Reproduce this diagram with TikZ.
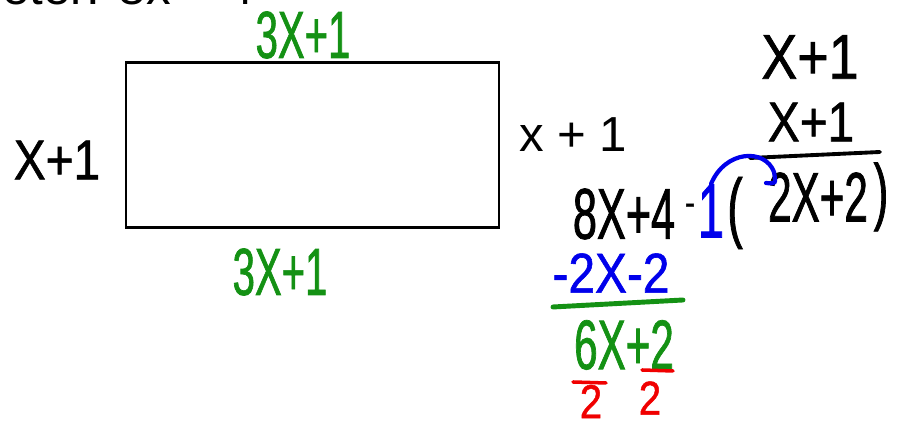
\documentclass[tikz,border=0pt]{standalone}
\usepackage{fontspec}
\setmainfont{Liberation Sans}
\newfontfamily\handnarrow[FakeStretch=0.6,FakeBold=1]{Liberation Sans}
\newfontfamily\handwide[FakeStretch=0.85,FakeBold=1]{Liberation Sans}
\definecolor{penGreen}{RGB}{20,145,20}
\definecolor{penBlue}{RGB}{0,0,235}
\definecolor{penRed}{RGB}{240,0,0}

\begin{document}
\begin{tikzpicture}[
  every node/.style={inner sep=0pt},
  pen/.style={line width=2.4pt, line cap=round},
  hn/.style={font={\handnarrow\fontsize{#1pt}{#1pt}\selectfont}},
  hw/.style={font={\handwide\fontsize{#1pt}{#1pt}\selectfont}},
  typed/.style={font={\fontsize{#1pt}{#1pt}\selectfont}}
]
  \useasboundingbox (0,0) rectangle (18,8.5);
  \clip (0,0) rectangle (18,8.5);

  % clipped line at the top
  \node[typed=28, anchor=base east] (prompt) at (5.09,8.41) {Perimeter: 8x + 4};

  % the rectangle and its sides
  \node[draw, line width=1.7pt, minimum width=7.46cm, minimum height=3.3cm] (box) at (6.25,5.59) {};
  \node[hn=38, text=penGreen] (top) at (6.06,7.8) {3X+1};
  \node[hn=38, text=penGreen] (bottom) at (5.6,3.06) {3X+1};
  \node[hw=32] (left) at (1.14,5.3) {X+1};
  \node[typed=28, anchor=base west] (right) at (10.38,5.46) {x + 1};

  % sum of the two sides
  \node[hw=36] (side1) at (16.2,7.36) {X+1};
  \node[hw=32] (side2) at (16.22,6.06) {X+1};
  \coordinate (barL) at (15.0,5.34);
  \coordinate (barR) at (17.6,5.46);
  \draw[pen, line width=2.2pt] (barL) -- (barR);

  % subtraction
  \node[hn=41] (total) at (12.48,4.22) {8X+4};
  \node[hw=20, anchor=base] (minus) at (13.8,4.21) {-};
  \node[hn=44, text=penBlue] (one) at (14.22,4.28) {1};
  \node[hn=44] (lpar) at (14.7,4.24) {(};
  \node[hn=40] (twice) at (16.36,4.56) {2X+2};
  \node[hn=42] (rpar) at (17.62,4.56) {)};
  \coordinate (hook) at (15.32,4.84);
  \draw[pen, penBlue] (one.north) .. controls (14.5,5.5) and (15.3,5.54) .. (15.48,5.06)
    .. controls (15.52,4.82) .. (hook);

  \node[hw=32, text=penBlue] (sub) at (12.22,3.04) {-2X-2};
  \coordinate (sumL) at (11.06,2.36);
  \coordinate (sumR) at (13.66,2.5);
  \draw[pen, penGreen, line width=2.8pt] (sumL) -- (sumR);
  \node[hn=40, text=penGreen] (rest) at (12.48,1.6) {6X+2};

  % divide by two
  \coordinate (divAL) at (11.46,0.86);
  \coordinate (divAR) at (12.12,0.84);
  \coordinate (divBL) at (12.84,1.1);
  \coordinate (divBR) at (13.46,1.08);
  \draw[pen, penRed, line width=2pt] (divAL) -- (divAR);
  \draw[pen, penRed, line width=2pt] (divBL) -- (divBR);
  \node[hw=27, text=penRed] (halfA) at (11.82,0.47) {2};
  \node[hw=27, text=penRed] (halfB) at (13.0,0.54) {2};
\end{tikzpicture}
\end{document}
